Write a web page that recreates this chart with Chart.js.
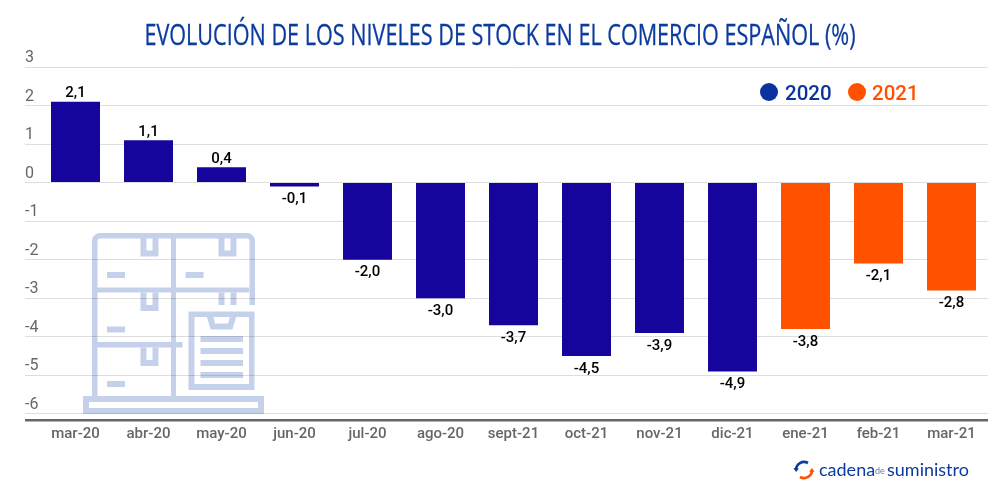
<!DOCTYPE html>
<html lang="es">
<head>
<meta charset="utf-8">
<style>
html,body{margin:0;padding:0;background:#fff;width:1000px;height:500px;overflow:hidden}
#wrap{position:relative;width:1000px;height:500px}
canvas{position:absolute;left:0;top:0}
#icon{position:absolute;left:0;top:0;mix-blend-mode:multiply}
#title{position:absolute;left:0;top:14px;width:1000px;text-align:center;color:#0b3b9e;font:500 29px "Open Sans",sans-serif;-webkit-text-stroke:.3px #0b3b9e;line-height:40px;white-space:nowrap;transform:scaleX(.745);transform-origin:500px 0}
.lg{position:absolute;font:500 20.5px Roboto,sans-serif;line-height:24px;top:81px}
.dot{position:absolute;width:18px;height:18px;border-radius:50%;top:83px}
.brand{position:absolute;top:457px;color:#0b3b9e;font:400 18px Lato,sans-serif;line-height:24px;white-space:nowrap}
</style>
</head>
<body>
<div id="wrap">
<canvas id="c" width="1000" height="500"></canvas>
<div id="title">EVOLUCIÓN DE LOS NIVELES DE STOCK EN EL COMERCIO ESPAÑOL (%)</div>
<svg id="icon" width="1000" height="500" viewBox="0 0 1000 500" fill="#c5d1ea">
<path fill-rule="evenodd" d="M92 396V241a8 8 0 0 1 8-8H247a8 8 0 0 1 8 8V305H249.5V241a2.500 2.500 0 0 0-2.500-2.500H100a2.500 2.500 0 0 0-2.500 2.500V396Z"/>
<rect x="171" y="238" width="5" height="158"/>
<rect x="97" y="287.500" width="152" height="5"/>
<rect x="97" y="342" width="85.500" height="5.500"/>
<path fill-rule="evenodd" d="M83 396H264V414H83ZM89 402V408H258V402Z"/>
<path d="M140.500 238H146.500V250.500H152.500V238H158.500V256.500H140.500Z"/>
<path d="M218.500 238H224.500V250.500H230.500V238H236.500V256.500H218.500Z"/>
<path d="M140.500 292.500H146.500V305H152.500V292.500H158.500V311H140.500Z"/>
<path d="M140.500 347.500H146.500V360H152.500V347.500H158.500V366H140.500Z"/>
<rect x="218.500" y="292.500" width="6" height="12.500"/>
<rect x="230.500" y="292.500" width="6" height="12.500"/>
<rect x="107" y="272" width="18" height="6"/>
<rect x="185.500" y="272" width="18" height="6"/>
<rect x="107" y="326.500" width="18" height="6"/>
<rect x="107" y="381" width="18" height="6"/>
<path fill-rule="evenodd" d="M188.500 311.500H254.500V390H188.500ZM194.500 317V384H249V317Z"/>
<path fill-rule="evenodd" d="M207 317H236L232.500 329.500H210.500ZM213.500 317L215 323.500H228L230 317Z"/>
<rect x="200.500" y="336" width="42.500" height="6"/>
<rect x="200.500" y="348" width="42.500" height="6"/>
<rect x="200.500" y="360" width="42.500" height="6"/>
<rect x="200.500" y="372" width="42.500" height="6"/>
</svg>
<div class="dot" style="left:760px;background:#0b33a0"></div>
<div class="lg" style="left:785px;color:#0b33a0">2020</div>
<div class="dot" style="left:848px;background:#ff5100"></div>
<div class="lg" style="left:872px;color:#ff5100">2021</div>
<svg style="position:absolute;left:793px;top:459px" width="22" height="22" viewBox="0 0 22 22" fill="none" stroke-width="2.600">
<path d="M3 11A8 8 0 0 1 15 4" stroke="#0b3b9e"/><path d="M0.500 9L3 13L6 9.500Z" fill="#0b3b9e" stroke="none"/>
<path d="M19 11A8 8 0 0 1 7 18" stroke="#ff5100"/><path d="M16 12.500L19 9L21.500 13Z" fill="#ff5100" stroke="none"/>
</svg>
<div class="brand" style="left:819px">cadena</div>
<div class="brand" style="left:875px;font-size:9px;color:#5f7fb0;top:459px">de</div>
<div class="brand" style="left:887px">suministro</div>
</div>
<script src="https://cdn.jsdelivr.net/npm/chart.js@4"></script>
<script>
const categories = ['mar-20','abr-20','may-20','jun-20','jul-20','ago-20','sept-21','oct-21','nov-21','dic-21','ene-21','feb-21','mar-21'];
const values2020 = [2.1,1.1,0.4,-0.1,-2.0,-3.0,-3.7,-4.5,-3.9,-4.9,null,null,null];
const values2021 = [null,null,null,null,null,null,null,null,null,null,-3.8,-2.1,-2.8];
const yTicks = [3,2,1,0,-1,-2,-3,-4,-5,-6];
const yMin = -6.16, yMax = 3;

const barLabels = {
  id:'barLabels',
  afterDatasetsDraw(chart){
    const g = chart.ctx;
    g.save();
    g.font = '500 15px Roboto, sans-serif';
    g.fillStyle = '#000';
    g.textAlign = 'center';
    g.textBaseline = 'middle';
    chart.data.datasets.forEach((ds,i)=>{
      chart.getDatasetMeta(i).data.forEach((bar,j)=>{
        const v = ds.data[j];
        if (v === null) return;
        const t = v.toFixed(1).replace('.',',');
        g.fillText(t, bar.x, v >= 0 ? bar.y - 8 : bar.y + 13);
      });
    });
    g.restore();
  }
};

new Chart(document.getElementById('c'), {
  type:'bar',
  data:{
    labels:categories,
    datasets:[
      {label:'2020',data:values2020,backgroundColor:'#15059c',barPercentage:0.671,categoryPercentage:1,stack:'s'},
      {label:'2021',data:values2021,backgroundColor:'#ff5100',barPercentage:0.671,categoryPercentage:1,stack:'s'}
    ]
  },
  plugins:[barLabels],
  options:{
    responsive:false,
    animation:false,
    devicePixelRatio:1,
    layout:{padding:{left:25,right:12,top:67,bottom:50}},
    plugins:{legend:{display:false},tooltip:{enabled:false}},
    scales:{
      x:{
        stacked:true,
        border:{display:false},
        grid:{display:false,drawTicks:false},
        afterFit(s){s.height=30;},
        ticks:{color:'#666',font:{family:'Roboto, sans-serif',size:15,weight:'500'},padding:5,maxRotation:0,autoSkip:false}
      },
      y:{
        stacked:true,
        min:yMin,max:yMax,
        afterBuildTicks(s){s.ticks=[yMax,...yTicks.slice(1),yMin].map(v=>({value:v}));},
        afterFit(s){s.width=14;},
        border:{display:false},
        grid:{
          tickLength:14,
          color:c=>c.tick.value===yMin?'#666':'#ddd',
          tickColor:c=>c.tick.value===yMin?'#666':'#ddd',
          lineWidth:c=>c.tick.value===yMin?2.5:1
        },
        ticks:{
          color:'#666',padding:0,crossAlign:'far',labelOffset:-9,
          font:{family:'Roboto, sans-serif',size:16,weight:'400'},
          callback:v=>v===yMin?'':String(v)
        }
      }
    }
  }
});
</script>
</body>
</html>
